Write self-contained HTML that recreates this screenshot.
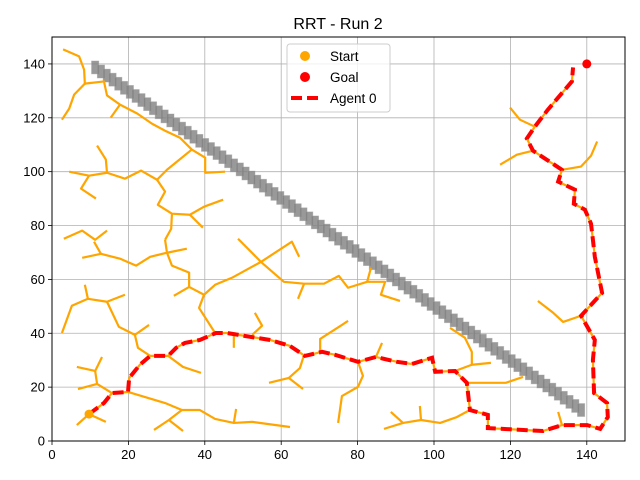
<!DOCTYPE html>
<html><head><meta charset="utf-8"><style>
body{margin:0;background:#fff}
svg{display:block;font-family:"Liberation Sans","DejaVu Sans",sans-serif}
</style></head><body>
<svg id="chart" width="640" height="480" viewBox="0 0 640 480">
<rect width="640" height="480" fill="#fff"/>
<text x="338" y="29" font-size="16" text-anchor="middle">RRT - Run 2</text>
<g id="grid"></g>
<g id="obst"></g>
<g id="tree"></g>
<g id="path"></g>
<g id="marks"></g>
<rect x="52" y="37" width="573" height="404" fill="none" stroke="#000" stroke-width="1"/>
<g id="ticks"></g>
<g>
<rect x="287" y="44" width="103" height="68" rx="3" fill="#fff" fill-opacity="0.8" stroke="#ccc"/>
<g><circle cx="305" cy="56" r="5" fill="orange"/><text x="330" y="61" font-size="13.5">Start</text></g>
<g><circle cx="305" cy="77" r="5" fill="red"/><text x="330" y="82" font-size="13.5">Goal</text></g>
<g><line x1="291" y1="98" x2="320" y2="98" stroke="red" stroke-width="4" stroke-dasharray="11,5"/><text x="330" y="103" font-size="13.5">Agent 0</text></g>
</g>
</svg>
<script>
const xTicks=[0,20,40,60,80,100,120,140];
const yTicks=[0,20,40,60,80,100,120,140];
const startPt=[9.7,10.0];
const goalPt=[140,140];
const pathX=[9.7,13.6,15.7,19.9,20.2,23.0,25.7,30.4,32.5,34.8,38.7,42.9,45.8,51.8,57.1,62.3,66.2,70.7,74.1,80.1,84.8,90.3,94.2,99.5,100.3,105.5,108.6,109.4,114.1,114.1,128.5,133.5,140.1,143.5,145.5,145.3,141.9,141.6,142.1,138.5,144.0,142.1,141.6,141.1,139.5,136.6,136.9,132.5,133.5,125.9,124.3,126.4,129.8,136.1,136.4];
const pathY=[10.0,14.1,17.8,18.2,23.4,28.3,31.6,31.6,34.6,36.4,37.5,40.1,40.1,38.7,37.5,35.3,31.6,33.1,32.0,29.4,31.2,29.4,28.6,30.9,25.7,26.0,21.6,11.5,9.7,4.8,3.7,5.9,5.9,4.5,8.9,14.1,17.8,30.1,37.5,46.5,55.0,68.4,74.7,80.7,85.9,88.1,93.3,96.3,100.7,107.8,112.3,116.7,123.0,133.5,138.7];
const treeBranches=[
[[2.9,145.4],[7.1,142.8],[8.4,137.9],[8.6,132.7],[13.6,133.5],[14.4,128.3],[17.8,124.9],[22.3,121.6],[26.2,117.8],[29.6,115.2],[33.5,112.6],[36.6,108.2],[40.1,105.2],[40.1,99.6],[45.3,100.0]],
[[8.6,132.7],[5.8,128.6],[4.5,123.4],[2.6,119.3]],
[[17.8,124.9],[15.4,120.1]],
[[36.6,108.2],[30.1,100.7],[27.5,97.0],[29.6,92.6],[27.7,87.7],[31.4,84.4],[36.1,84.0],[39.8,87.0],[44.8,89.6]],
[[36.1,84.0],[39.5,79.2]],
[[31.4,84.4],[31.2,78.8],[29.6,74.7]],
[[27.5,97.0],[23.3,100.4],[19.1,97.4],[14.4,99.6],[9.7,98.5],[4.5,100.0]],
[[14.4,99.6],[14.1,104.5],[11.8,109.7]],
[[9.7,98.5],[7.6,93.7],[11.5,90.0]],
[[3.1,75.1],[7.9,78.1],[11.3,74.7],[14.4,78.1]],
[[7.9,68.0],[12.8,69.5],[17.8,67.7],[22.0,65.1],[25.7,68.4],[30.1,69.9],[35.3,71.4]],
[[12.8,69.5],[11.0,74.0]],
[[30.1,69.9],[29.6,74.7]],
[[30.1,69.9],[31.4,65.1],[35.9,62.5],[35.9,57.2],[31.9,53.9]],
[[35.9,57.2],[39.8,54.3],[38.5,49.4],[42.7,40.1]],
[[39.8,54.3],[42.7,58.0],[47.1,60.6],[54.7,66.5],[62.8,74.0],[64.7,68.4]],
[[54.7,66.5],[60.7,59.1],[66.0,58.4],[71.2,58.4],[75.1,61.3],[77.5,56.9],[82.5,59.1],[87.2,59.1],[86.1,54.3],[91.1,52.0]],
[[82.5,59.1],[83.5,64.3]],
[[66.0,58.4],[64.4,52.8]],
[[48.7,75.1],[54.7,66.5]],
[[2.6,40.1],[5.2,50.2],[9.4,52.8],[14.4,51.7],[19.1,54.3]],
[[9.4,52.8],[8.6,58.0]],
[[14.4,51.7],[17.5,42.4],[21.7,39.4],[25.4,43.1]],
[[21.7,39.4],[22.5,34.6],[25.7,31.6]],
[[30.4,31.6],[34.3,27.5],[39.0,25.3]],
[[47.6,39.4],[47.6,34.6]],
[[53.1,47.6],[55.0,42.8],[52.4,39.4]],
[[66.0,32.0],[64.9,27.1],[62.0,23.4],[56.8,21.6]],
[[62.0,23.4],[65.7,19.3]],
[[70.2,32.7],[70.2,37.9],[75.9,43.1],[77.5,44.6]],
[[80.1,29.4],[81.4,24.2],[80.1,20.1],[75.9,16.7],[74.9,6.7]],
[[84.8,31.2],[86.4,36.4]],
[[6.5,27.5],[11.3,26.0],[13.1,31.2]],
[[11.3,26.0],[11.8,21.2],[6.8,19.3]],
[[11.8,21.2],[15.7,17.8]],
[[19.9,18.2],[29.6,14.1],[34.0,11.5],[38.7,11.5],[42.7,8.2],[47.6,6.7],[52.4,7.1],[62.3,5.2]],
[[34.0,11.5],[30.6,7.8],[26.7,4.1]],
[[30.6,7.8],[34.3,3.7]],
[[47.6,6.7],[48.2,11.9]],
[[9.7,10.0],[6.5,5.9]],
[[9.7,10.0],[14.1,7.1]],
[[104.2,42.0],[108.1,38.3],[109.9,33.1],[109.9,28.3],[114.9,29.0]],
[[109.9,28.3],[105.5,26.0]],
[[108.6,21.6],[118.8,21.6],[123.3,23.8]],
[[86.9,4.5],[91.9,6.7],[96.6,7.8],[101.6,6.7],[106.0,8.9],[109.4,11.5]],
[[91.9,6.7],[88.7,10.8]],
[[96.6,7.8],[96.3,13.0]],
[[127.2,52.0],[131.2,47.6],[133.8,44.2],[138.5,46.5]],
[[133.5,5.9],[132.5,10.8]],
[[119.9,123.8],[122.5,119.3],[126.4,116.7]],
[[117.3,102.6],[121.7,106.3],[125.9,107.8]],
[[133.5,100.7],[138.5,101.9],[141.1,105.9],[142.7,111.2]]
];
const wallStart=[11.3,138.7], wallEnd=[138.5,11.5], wallCount=85;

const NS='http://www.w3.org/2000/svg';
const X0=52,X1=625,Y0=441,Y1=37,XMAX=150,YMAX=150;
function sx(v){return X0+(X1-X0)*v/XMAX;}
function sy(v){return Y0-(Y0-Y1)*v/YMAX;}
function mk(tag,attrs,parent){const e=document.createElementNS(NS,tag);for(const k in attrs)e.setAttribute(k,attrs[k]);parent.appendChild(e);return e;}
const grid=document.getElementById('grid'),ticks=document.getElementById('ticks');
xTicks.forEach(t=>{
  const g=mk('line',{x1:sx(t),x2:sx(t),y1:Y0,y2:Y1,stroke:'#b0b0b0','stroke-width':0.8},grid);
  
  
  const tk=mk('line',{x1:sx(t),x2:sx(t),y1:Y0,y2:Y0+4,stroke:'#000','stroke-width':0.8},ticks);
  
  
  const l=mk('text',{x:sx(t),y:Y0+18,'font-size':13,'text-anchor':'middle'},ticks);
  l.textContent=t;
  
  
});
yTicks.forEach(t=>{
  const g=mk('line',{x1:X0,x2:X1,y1:sy(t),y2:sy(t),stroke:'#b0b0b0','stroke-width':0.8},grid);
  
  
  const tk=mk('line',{x1:X0-4,x2:X0,y1:sy(t),y2:sy(t),stroke:'#000','stroke-width':0.8},ticks);
  
  
  const l=mk('text',{x:X0-7,y:sy(t)+4.5,'font-size':13,'text-anchor':'end'},ticks);
  l.textContent=t;
  
  
});
const obst=document.getElementById('obst');
for(let i=0;i<wallCount;i++){
  const f=i/(wallCount-1);
  const cx=wallStart[0]+(wallEnd[0]-wallStart[0])*f, cy=wallStart[1]+(wallEnd[1]-wallStart[1])*f;
  const r=mk('rect',{x:sx(cx-0.95),y:sy(cy+2.4),width:sx(0.95)-sx(-0.95),height:sy(-2.4)-sy(2.4),fill:'#808080','fill-opacity':0.8,stroke:'#a0a0a0','stroke-opacity':0.5,'stroke-width':0.8},obst);
  
  
}
const tree=document.getElementById('tree');
treeBranches.forEach(b=>{
  const p=mk('polyline',{points:b.map(q=>sx(q[0])+','+sy(q[1])).join(' '),fill:'none',stroke:'orange','stroke-width':2.2,'stroke-linejoin':'round'},tree);
  
  
});
const pathG=document.getElementById('path');
const pts=pathX.map((x,i)=>sx(x)+','+sy(pathY[i])).join(' ');
const under=mk('polyline',{points:pts,fill:'none',stroke:'orange','stroke-width':2.2},pathG);


const pl=mk('polyline',{points:pts,fill:'none',stroke:'red','stroke-width':4,'stroke-dasharray':'11,5'},pathG);


const marks=document.getElementById('marks');
const s=mk('circle',{cx:sx(startPt[0]),cy:sy(startPt[1]),r:4.5,fill:'orange'},marks);


const g=mk('circle',{cx:sx(goalPt[0]),cy:sy(goalPt[1]),r:4.5,fill:'red'},marks);


</script>
</body></html>
